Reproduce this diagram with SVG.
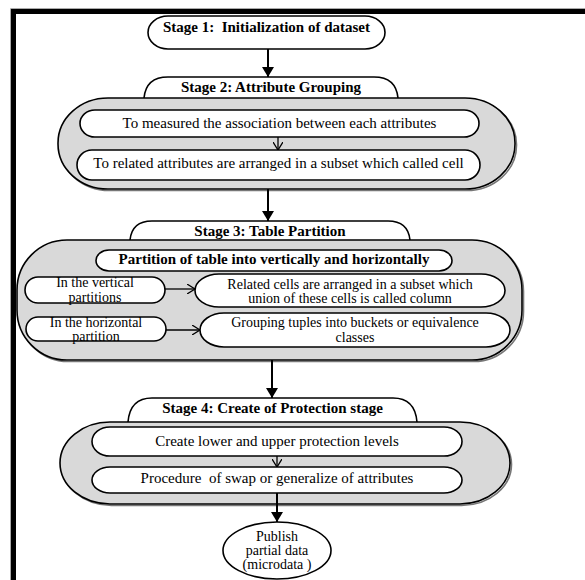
<svg xmlns="http://www.w3.org/2000/svg" width="585" height="580" viewBox="0 0 585 580">
<defs>
<marker id="ah" viewBox="0 0 10 12" refX="10" refY="6" markerWidth="10" markerHeight="12" markerUnits="userSpaceOnUse" orient="auto">
<path d="M0 0 L10 6 L0 12 Z" fill="#000"/>
</marker>
<marker id="ov" viewBox="0 0 8 10" refX="8" refY="5" markerWidth="8" markerHeight="10" markerUnits="userSpaceOnUse" orient="auto">
<path d="M0 0 L8 5 L0 10" fill="none" stroke="#000" stroke-width="1.3"/>
</marker>
</defs>
<style>
text{font-family:"Liberation Serif","Times New Roman",serif;font-size:15px;text-anchor:middle;fill:#000}
.b{font-weight:bold}
.s{font-size:14px}
.box{fill:#fff;stroke:#000;stroke-width:1.6}
.cont{fill:#d9d9d9;stroke:#000;stroke-width:1.6}
.shadow{fill:none;stroke:#777;stroke-width:1.6}
.main{stroke:#000;stroke-width:2;fill:none;marker-end:url(#ah)}
.thin{stroke:#000;stroke-width:1.3;fill:none;marker-end:url(#ov)}
</style>
<rect width="585" height="580" fill="#fff"/>
<path d="M13.5 580 V11.5 H585" fill="none" stroke="#000" stroke-width="5"/>
<path d="M10.5 580 V8.5 H585" fill="none" stroke="#aaa" stroke-width="1"/>

<g id="stage1">
<rect class="box" x="148" y="16" width="237" height="33" rx="20" ry="16.5"/>
<text class="b" x="266.5" y="32" xml:space="preserve">Stage 1:  Initialization of dataset</text>
</g>

<g id="stage2">
<path class="box" d="M144 98 Q146 77 168 77 L374 77 Q396 77 398 98"/>
<text class="b" x="271" y="92">Stage 2: Attribute Grouping</text>
<rect class="shadow" x="59.5" y="99.5" width="457" height="91" rx="50" ry="45"/>
<rect class="cont" x="58" y="98" width="457" height="91" rx="50" ry="45"/>
</g>
<g id="s2a">
<rect class="box" x="80" y="110" width="399" height="27" rx="15" ry="13.5"/>
<text x="279.5" y="128">To measured the association between each attributes</text>
</g>
<g id="s2b">
<rect class="box" x="77" y="150" width="403" height="30" rx="15" ry="15"/>
<text x="278.5" y="168">To related attributes are arranged in a subset which called cell</text>
</g>

<g id="stage3">
<path class="box" d="M130 240 Q132 221 152 221 L388 221 Q408 221 410 240"/>
<text class="b" x="270" y="236">Stage 3: Table Partition</text>
<rect class="shadow" x="18.5" y="241.5" width="505" height="120" rx="50" ry="50"/>
<rect class="cont" x="17" y="240" width="505" height="120" rx="50" ry="50"/>
</g>
<g id="s3a">
<rect class="box" x="96" y="250" width="356" height="21" rx="13" ry="10.5"/>
<text class="b" x="274" y="264">Partition of table into vertically and horizontally</text>
</g>
<g id="s3b">
<rect class="box" x="25" y="277" width="140" height="26" rx="13" ry="13"/>
<text class="s" x="95" y="287">In the vertical</text>
<text class="s" x="95" y="302">partitions</text>
</g>
<g id="s3c">
<rect class="box" x="195" y="274" width="310" height="33" rx="24" ry="16.5"/>
<text class="s" x="350" y="288.5">Related cells are arranged in a subset which</text>
<text class="s" x="350" y="303">union of these cells is called column</text>
</g>
<g id="s3d">
<rect class="box" x="26" y="317" width="140" height="24" rx="12" ry="12"/>
<text class="s" x="96" y="326.5">In the horizontal</text>
<text class="s" x="96" y="341">partition</text>
</g>
<g id="s3e">
<rect class="box" x="200" y="313" width="310" height="34" rx="24" ry="17"/>
<text class="s" x="355" y="327">Grouping tuples into buckets or equivalence</text>
<text class="s" x="355" y="341.5">classes</text>
</g>

<g id="stage4">
<path class="box" d="M128 422 Q130 398 152 398 L393 398 Q415 398 417 422"/>
<text class="b" x="272.5" y="413">Stage 4: Create of Protection stage</text>
<rect class="shadow" x="61.5" y="423.5" width="450" height="82" rx="50" ry="41"/>
<rect class="cont" x="60" y="422" width="450" height="82" rx="50" ry="41"/>
</g>
<g id="s4a">
<rect class="box" x="92" y="427" width="370" height="29" rx="18" ry="14.5"/>
<text x="277" y="446">Create lower and upper protection levels</text>
</g>
<g id="s4b">
<rect class="box" x="92" y="467" width="370" height="26" rx="18" ry="13"/>
<text x="277" y="483" xml:space="preserve">Procedure  of swap or generalize of attributes</text>
</g>

<g id="publish">
<ellipse class="box" cx="277" cy="550.5" rx="54" ry="28.5"/>
<text class="s" x="277" y="540.5">Publish</text>
<text class="s" x="277" y="555">partial data</text>
<text class="s" x="277" y="569">(microdata )</text>
</g>

<g id="connectors">
<line class="main" x1="268" y1="49" x2="268" y2="77"/>
<line class="thin" x1="278" y1="137" x2="278" y2="150"/>
<line class="main" x1="268" y1="189" x2="268" y2="221"/>
<line class="thin" x1="165" y1="289" x2="195" y2="289"/>
<line class="thin" x1="166" y1="330" x2="200" y2="330"/>
<line class="main" x1="272" y1="360" x2="272" y2="398"/>
<line class="thin" x1="277" y1="456" x2="277" y2="467"/>
<line class="main" x1="277" y1="493" x2="277" y2="522"/>
</g>
</svg>
